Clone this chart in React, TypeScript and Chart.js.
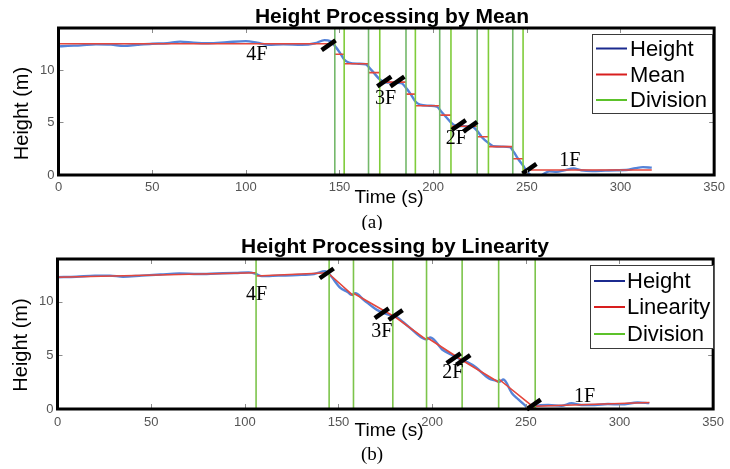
import React, { useEffect, useRef } from 'react';
import { Chart, registerables } from 'chart.js';

Chart.register(...registerables);

const SANS = "'Liberation Sans', Arial, Helvetica, sans-serif";
const SERIF = "'Liberation Serif', 'Times New Roman', serif";

// ---------- shared axes ----------
const xTicks = [0, 50, 100, 150, 200, 250, 300, 350];
const yTicks = [0, 5, 10];
const xRange = [0, 350];
const yRange = [0, 14];

// ---------- panel (a): mean ----------
const timeA = [0, 5, 12, 20, 28, 35, 42, 50, 58, 65, 72, 80, 90, 100, 106, 112, 120, 130, 137, 142,
  145, 147.5, 150, 152.5, 155, 160, 164, 166, 168.5, 171.5, 174, 178, 183, 185.5, 188, 190.5, 193, 198, 202, 204.5,
  207, 209.5, 212, 216, 221, 223.5, 226, 229.5, 232, 237, 241, 243, 245.5, 248, 250, 252, 255, 258, 262, 266,
  270, 275, 279, 285, 292, 298, 303, 308, 312, 316.7];
const heightA = [12.25, 12.3, 12.35, 12.45, 12.42, 12.3, 12.4, 12.5, 12.55, 12.7, 12.6, 12.55, 12.65, 12.75, 12.6, 12.4, 12.45, 12.4, 12.55, 12.85,
  12.75, 12.3, 11.7, 11.0, 10.7, 10.6, 10.55, 10.2, 9.7, 9.1, 8.85, 8.8, 8.75, 8.3, 7.7, 7.0, 6.7, 6.6, 6.5, 6.0,
  5.5, 5.0, 4.7, 4.65, 4.6, 4.2, 3.6, 3.05, 2.75, 2.7, 2.65, 2.2, 1.5, 0.9, 0.35, 0.0, -0.15, 0.0, 0.35, 0.3,
  0.45, 0.62, 0.45, 0.38, 0.42, 0.45, 0.47, 0.65, 0.75, 0.7];
const meanBoundsA = [0, 147.5, 152.5, 165.5, 171.5, 185.5, 190.5, 203.5, 209.5, 223.5, 229.5, 242.5, 248, 316.7];
const meanValuesA = [12.5, 11.5, 10.6, 9.75, 8.85, 7.7, 6.6, 5.7, 4.65, 3.65, 2.7, 1.55, 0.48];
const divisionsA = [147.5, 152.5, 165.5, 171.5, 185.5, 190.5, 203.5, 209.5, 223.5, 229.5, 242.5, 248];
const marksTimeA = [144.2, 173.9, 180.9, 213.7, 219.8, 251.4];
const marksHeightA = [12.35, 8.9, 8.9, 4.76, 4.6, 0.6];
const floorLabelsA = ['4F', '3F', '2F', '1F'];
const floorTimeA = [105.9, 174.6, 212.4, 272.9];
const floorHeightA = [11.5, 7.3, 3.5, 1.36];
const legendLabelsA = ['Height', 'Mean', 'Division'];

// ---------- panel (b): linearity ----------
const timeB = [0, 10, 20, 28, 35, 45, 55, 65, 75, 85, 95, 102, 106, 109, 118, 128, 137, 143, 145, 151,
  155, 157, 159, 163.4, 170.5, 175, 179, 181, 184.6, 191.6, 195, 197, 199, 205.7, 210, 216, 219, 223.3, 230.3, 234,
  236, 238, 242.7, 246, 250.6, 252.3, 255, 262, 269, 274.4, 279.7, 286.8, 293.8, 300.9, 309.7, 315.9];
const heightB = [12.3, 12.35, 12.45, 12.45, 12.35, 12.45, 12.55, 12.65, 12.6, 12.65, 12.7, 12.75, 12.6, 12.4, 12.45, 12.5, 12.6, 12.85, 12.6, 11.3,
  10.9, 10.65, 10.8, 10.2, 9.25, 8.9, 8.7, 8.6, 8.1, 7.05, 6.6, 6.5, 6.68, 5.5, 5.1, 4.55, 4.35, 3.9, 2.85, 2.65,
  2.55, 2.75, 1.45, 0.9, 0.2, 0.0, 0.25, 0.37, 0.3, 0.53, 0.37, 0.37, 0.46, 0.43, 0.6, 0.55];
const linBoundsB = [0, 106, 145, 158, 179, 197, 216, 235.5, 255, 316];
const linStartB = [12.3, 12.42, 12.6, 10.8, 8.75, 6.7, 4.55, 2.8, 0.25];
const linEndB = [12.72, 12.72, 10.55, 8.7, 6.45, 4.55, 2.5, 0.05, 0.6];
const divisionsB = [106, 145, 158, 179, 197, 216, 235.5, 255];
const marksTimeB = [143.7, 173.1, 180.5, 211.5, 216.6, 254.2];
const marksHeightB = [12.66, 8.93, 8.77, 4.73, 4.57, 0.42];
const floorLabelsB = ['4F', '3F', '2F', '1F'];
const floorTimeB = [106.2, 173.1, 211, 281.4];
const floorHeightB = [10.63, 7.2, 3.39, 1.15];
const legendLabelsB = ['Height', 'Linearity', 'Division'];

// ---------- helpers to build datasets ----------
function seriesPoints(xs: number[], ys: number[]) {
  return xs.map((x, i) => ({ x, y: ys[i] }));
}
function stepPoints(bounds: number[], values: number[]) {
  const pts: any[] = [];
  values.forEach((v, i) => {
    pts.push({ x: bounds[i], y: v });
    pts.push({ x: bounds[i + 1], y: v });
    pts.push({ x: bounds[i + 1], y: null });
  });
  return pts;
}
function segmentPoints(bounds: number[], starts: number[], ends: number[]) {
  const pts: any[] = [];
  starts.forEach((s, i) => {
    pts.push({ x: bounds[i], y: s });
    pts.push({ x: bounds[i + 1], y: ends[i] });
    pts.push({ x: bounds[i + 1], y: null });
  });
  return pts;
}
function verticalPoints(xs: number[]) {
  const pts: any[] = [];
  xs.forEach((x) => {
    pts.push({ x, y: yRange[0] });
    pts.push({ x, y: yRange[1] });
    pts.push({ x, y: null });
  });
  return pts;
}

// ---------- plugins ----------
const framePlugin = {
  id: 'frame',
  afterDatasetsDraw(chart: any) {
    const { ctx, chartArea: a, scales } = chart;
    ctx.save();
    ctx.strokeStyle = '#8c8c8c';
    ctx.lineWidth = 1;
    const L = 5;
    const seg = (x1: number, y1: number, x2: number, y2: number) => {
      ctx.beginPath();
      ctx.moveTo(x1, y1);
      ctx.lineTo(x2, y2);
      ctx.stroke();
    };
    scales.x.ticks.forEach((t: any) => {
      const px = Math.round(scales.x.getPixelForValue(t.value)) + 0.5;
      if (px <= a.left + 3 || px >= a.right - 3) return;
      seg(px, a.top, px, a.top + L);
      seg(px, a.bottom, px, a.bottom - L);
    });
    scales.y.ticks.forEach((t: any) => {
      const py = Math.round(scales.y.getPixelForValue(t.value)) + 0.5;
      if (py <= a.top + 3 || py >= a.bottom - 3) return;
      seg(a.left, py, a.left + L, py);
      seg(a.right, py, a.right - L, py);
    });
    ctx.strokeStyle = '#000';
    ctx.lineWidth = 3;
    ctx.strokeRect(a.left, a.top, a.right - a.left, a.bottom - a.top);
    ctx.restore();
  },
};

const floorLabelPlugin = {
  id: 'floorLabels',
  afterDraw(chart: any, _args: any, opts: any) {
    const { ctx, scales } = chart;
    ctx.save();
    ctx.font = `20px ${SERIF}`;
    ctx.fillStyle = '#000';
    ctx.textAlign = 'center';
    ctx.textBaseline = 'middle';
    opts.texts.forEach((t: string, i: number) => {
      ctx.fillText(t, scales.x.getPixelForValue(opts.xs[i]), scales.y.getPixelForValue(opts.ys[i]));
    });
    ctx.restore();
  },
};

const boxLegendPlugin = {
  id: 'boxLegend',
  afterDraw(chart: any, _args: any, opts: any) {
    const { ctx } = chart;
    const b = opts.box;
    ctx.save();
    ctx.fillStyle = '#fff';
    ctx.fillRect(b.x, b.y, b.w, b.h);
    ctx.strokeStyle = '#3a3a3a';
    ctx.lineWidth = 1;
    ctx.strokeRect(b.x + 0.5, b.y + 0.5, b.w, b.h);
    ctx.font = `22px ${SANS}`;
    ctx.textAlign = 'left';
    ctx.textBaseline = 'middle';
    opts.labels.forEach((label: string, i: number) => {
      const y = opts.rows[i];
      ctx.strokeStyle = opts.colors[i];
      ctx.lineWidth = 2;
      ctx.beginPath();
      ctx.moveTo(opts.lineX[0], y);
      ctx.lineTo(opts.lineX[1], y);
      ctx.stroke();
      ctx.fillStyle = '#000';
      ctx.fillText(label, opts.textX, y + 1);
    });
    ctx.restore();
  },
};

const textsPlugin = {
  id: 'panelTexts',
  afterDraw(chart: any, _args: any, o: any) {
    const { ctx } = chart;
    ctx.save();
    ctx.fillStyle = '#000';
    ctx.textAlign = 'center';
    ctx.textBaseline = 'alphabetic';
    ctx.font = `bold 21px ${SANS}`;
    ctx.fillText(o.title, o.titleX, o.titleBase);
    ctx.font = `19px ${SANS}`;
    ctx.fillText(o.xTitle, o.xTitleX, o.xTitleBase);
    ctx.font = `19px ${SERIF}`;
    ctx.fillText(o.caption, o.captionX, o.captionBase);
    ctx.save();
    ctx.translate(o.yTitleBase, o.yTitleCenter);
    ctx.rotate(-Math.PI / 2);
    ctx.font = `20px ${SANS}`;
    ctx.fillText(o.yTitle, 0, 0);
    ctx.restore();
    ctx.restore();
  },
};

// ---------- config ----------
function makeConfig(p: any) {
  const { area, H } = p;
  return {
    type: 'line',
    data: {
      datasets: [
        {
          label: 'marks',
          data: seriesPoints(p.marksT, p.marksH),
          showLine: false,
          pointStyle: 'line',
          pointRadius: 8.5,
          pointBorderWidth: 4.5,
          pointRotation: -35,
          pointBorderColor: '#000',
          pointBackgroundColor: '#000',
          clip: false,
          order: 0,
        },
        {
          label: p.legendLabels[2],
          data: verticalPoints(p.divisions),
          borderWidth: 1.6,
          borderColor: p.divColors[0],
          segment: {
            borderColor: (c: any) => p.divColors[Math.floor(c.p0DataIndex / 3) % p.divColors.length],
          },
          pointRadius: 0,
          spanGaps: false,
          order: 1,
        },
        {
          label: p.legendLabels[1],
          data: p.fitPoints,
          borderColor: '#e5473c',
          borderWidth: 1.6,
          pointRadius: 0,
          spanGaps: false,
          order: 2,
        },
        {
          label: p.legendLabels[0],
          data: seriesPoints(p.time, p.height),
          borderColor: '#5583d8',
          borderWidth: 2.4,
          pointRadius: 0,
          cubicInterpolationMode: 'monotone',
          order: 3,
        },
      ],
    },
    options: {
      responsive: false,
      animation: false,
      events: [],
      layout: { padding: { left: 0, top: area.top, right: 730 - area.right, bottom: 0 } },
      scales: {
        x: {
          type: 'linear',
          min: xRange[0],
          max: xRange[1],
          grid: { display: false, drawTicks: false },
          border: { display: false },
          afterBuildTicks: (s: any) => { s.ticks = xTicks.map((v) => ({ value: v })); },
          afterFit: (s: any) => { s.height = H - area.bottom; },
          ticks: { color: '#555', font: { size: 13, family: SANS }, padding: p.xTickPad, maxRotation: 0, autoSkip: false },
        },
        y: {
          type: 'linear',
          min: yRange[0],
          max: yRange[1],
          grid: { display: false, drawTicks: false },
          border: { display: false },
          afterBuildTicks: (s: any) => { s.ticks = yTicks.map((v) => ({ value: v })); },
          afterFit: (s: any) => { s.width = area.left; },
          ticks: { color: '#555', font: { size: 13, family: SANS }, padding: 4 },
        },
      },
      plugins: {
        legend: { display: false },
        tooltip: { enabled: false },
        floorLabels: { texts: p.floorLabels, xs: p.floorT, ys: p.floorH },
        boxLegend: {
          labels: p.legendLabels,
          colors: ['#1b2a8f', '#d81e1e', '#5cc22a'],
          box: p.legendBox,
          rows: p.legendRows,
          lineX: p.legendLineX,
          textX: p.legendTextX,
        },
        panelTexts: p.texts,
      },
    },
    plugins: [framePlugin, floorLabelPlugin, boxLegendPlugin, textsPlugin],
  };
}

const panelA = {
  H: 230,
  area: { left: 58.5, right: 718.5, top: 28, bottom: 175 },
  xTickPad: 5,
  time: timeA,
  height: heightA,
  fitPoints: stepPoints(meanBoundsA, meanValuesA),
  divisions: divisionsA,
  divColors: ['#74b86a', '#7fcc3a'],
  marksT: marksTimeA,
  marksH: marksHeightA,
  floorLabels: floorLabelsA,
  floorT: floorTimeA,
  floorH: floorHeightA,
  legendLabels: legendLabelsA,
  legendBox: { x: 592, y: 34, w: 120, h: 79 },
  legendRows: [48.5, 74.5, 100],
  legendLineX: [596, 627],
  legendTextX: 630,
  texts: {
    title: 'Height Processing by Mean', titleX: 392, titleBase: 23,
    xTitle: 'Time (s)', xTitleX: 389, xTitleBase: 203,
    caption: '(a)', captionX: 372, captionBase: 228,
    yTitle: 'Height (m)', yTitleBase: 28, yTitleCenter: 113.5,
  },
};

const panelB = {
  H: 239,
  area: { left: 57.5, right: 719.5, top: 29, bottom: 179 },
  xTickPad: 6,
  time: timeB,
  height: heightB,
  fitPoints: segmentPoints(linBoundsB, linStartB, linEndB),
  divisions: divisionsB,
  divColors: ['#7cc44a'],
  marksT: marksTimeB,
  marksH: marksHeightB,
  floorLabels: floorLabelsB,
  floorT: floorTimeB,
  floorH: floorHeightB,
  legendLabels: legendLabelsB,
  legendBox: { x: 590, y: 35, w: 123, h: 83 },
  legendRows: [51, 77, 104],
  legendLineX: [594, 625],
  legendTextX: 627,
  texts: {
    title: 'Height Processing by Linearity', titleX: 395, titleBase: 23,
    xTitle: 'Time (s)', xTitleX: 389, xTitleBase: 206,
    caption: '(b)', captionX: 372, captionBase: 230,
    yTitle: 'Height (m)', yTitleBase: 27, yTitleCenter: 115,
  },
};

function Panel({ panel }: { panel: any }) {
  const ref = useRef<HTMLCanvasElement>(null);
  useEffect(() => {
    const chart = new Chart(ref.current as HTMLCanvasElement, makeConfig(panel) as any);
    return () => chart.destroy();
  }, [panel]);
  return (
    <canvas
      ref={ref}
      width={730}
      height={panel.H}
      style={{ display: 'block', width: 730, height: panel.H }}
    />
  );
}

export default function App() {
  return (
    <div style={{ position: 'absolute', left: 0, top: 0, width: 730, height: 469, background: '#fff' }}>
      <Panel panel={panelA} />
      <Panel panel={panelB} />
    </div>
  );
}
